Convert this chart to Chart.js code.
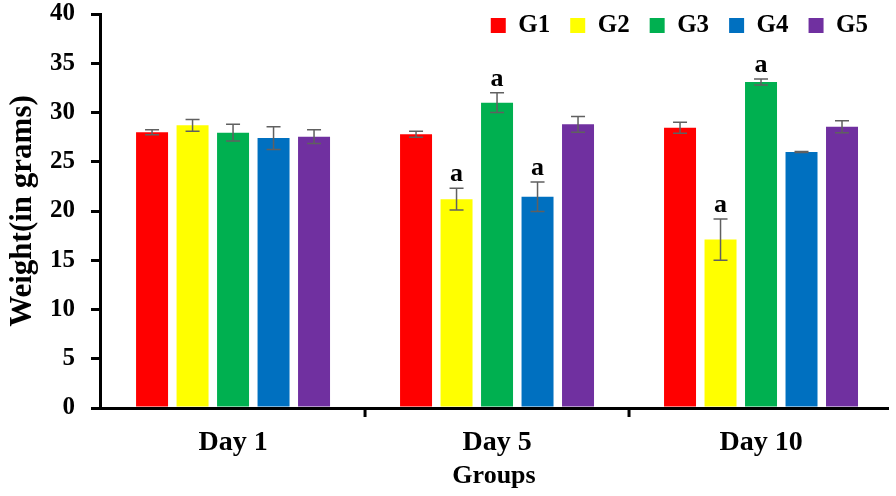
<!DOCTYPE html>
<html>
<head>
<meta charset="utf-8">
<title>Weight by group</title>
<script src="https://cdn.jsdelivr.net/npm/chart.js@4.4.0/dist/chart.umd.min.js"></script>
<style>
  body { margin: 0; background: #fff; }
  #wrap { width: 896px; height: 496px; }
</style>
</head>
<body>
<div id="wrap"><canvas id="weightChart"></canvas></div>
<script>
// values
const days = ['Day 1', 'Day 5', 'Day 10'];
const groups = ['G1', 'G2', 'G3', 'G4', 'G5'];
const colors = ['#FF0000', '#FFFF00', '#00B050', '#0070C0', '#7030A0'];

const g1 = [28.0, 27.8, 28.45];
const g2 = [28.7, 21.2, 17.1];
const g3 = [27.95, 31.0, 33.1];
const g4 = [27.4, 21.45, 26.0];
const g5 = [27.55, 28.8, 28.55];

const g1Err = [0.25, 0.3, 0.55];
const g2Err = [0.6, 1.1, 2.1];
const g3Err = [0.85, 1.0, 0.3];
const g4Err = [1.15, 1.5, 0.05];
const g5Err = [0.7, 0.8, 0.6];

const g1Sig = ['', '', ''];
const g2Sig = ['', 'a', 'a'];
const g3Sig = ['', 'a', 'a'];
const g4Sig = ['', 'a', ''];
const g5Sig = ['', '', ''];

const yTicks = [0, 5, 10, 15, 20, 25, 30, 35, 40];

const means = [g1, g2, g3, g4, g5];
const errs = [g1Err, g2Err, g3Err, g4Err, g5Err];
const sigs = [g1Sig, g2Sig, g3Sig, g4Sig, g5Sig];

const serif = '"Liberation Serif", "Times New Roman", serif';

// error bars + "a" letters
const errorBars = {
    id: 'errorBars',
    afterDatasetsDraw(chart) {
        const ctx = chart.ctx;
        const y = chart.scales.y;
        ctx.save();
        means.forEach((vals, di) => {
            const meta = chart.getDatasetMeta(di);
            meta.data.forEach((bar, i) => {
                const top = y.getPixelForValue(vals[i] + errs[di][i]);
                const bot = y.getPixelForValue(vals[i] - errs[di][i]);
                ctx.strokeStyle = '#606060';
                ctx.lineWidth = 1.5;
                ctx.beginPath();
                ctx.moveTo(bar.x, top); ctx.lineTo(bar.x, bot);
                ctx.moveTo(bar.x - 7, top); ctx.lineTo(bar.x + 7, top);
                ctx.moveTo(bar.x - 7, bot); ctx.lineTo(bar.x + 7, bot);
                ctx.stroke();
                if (sigs[di][i]) {
                    ctx.fillStyle = '#000';
                    ctx.font = 'bold 26px ' + serif;
                    ctx.textAlign = 'center';
                    ctx.textBaseline = 'alphabetic';
                    ctx.fillText(sigs[di][i], bar.x, top - 7);
                }
            });
        });
        ctx.restore();
    }
};

// tick marks between the day groups on the x axis
const xTickMarks = {
    id: 'xTickMarks',
    afterDraw(chart) {
        const ctx = chart.ctx;
        const x = chart.scales.x;
        const bottom = chart.chartArea.bottom;
        ctx.save();
        ctx.strokeStyle = '#000';
        ctx.lineWidth = 3;
        [1.5, 2.5].forEach(v => {
            const px = x.getPixelForValue(v);
            ctx.beginPath();
            ctx.moveTo(px, bottom);
            ctx.lineTo(px, bottom + 9);
            ctx.stroke();
        });
        ctx.restore();
    }
};

// legend sits inside the plot, top right
const legendInside = {
    id: 'legendInside',
    beforeInit(chart) {
        const fit = chart.legend.fit;
        chart.legend.fit = function () { fit.call(this); this.height = 0; };
    },
    afterLayout(chart) {
        chart.legend.top = -7;
        chart.legend.bottom = 60;
    }
};

const ctx = document.getElementById('weightChart').getContext('2d');
new Chart(ctx, {
    type: 'bar',
    data: {
        datasets: groups.map((g, di) => ({
            label: g,
            data: means[di].map((v, i) => ({ x: i + 1, y: v })),
            backgroundColor: colors[di],
            borderWidth: 0,
            categoryPercentage: 0.767,
            barPercentage: 0.79
        }))
    },
    options: {
        responsive: true,
        maintainAspectRatio: false,
        animation: false,
        layout: { padding: { top: 0, right: 8 } },
        plugins: {
            tooltip: { enabled: false },
            legend: {
                display: true,
                align: 'end',
                labels: {
                    boxWidth: 15,
                    boxHeight: 15,
                    padding: 20,
                    color: '#000',
                    font: { family: serif, size: 25, weight: 'bold' }
                }
            }
        },
        scales: {
            x: {
                type: 'linear',
                offset: false,
                min: 0.496,
                max: 3.481,
                afterBuildTicks(axis) {
                    axis.ticks = days.map((d, i) => ({ value: i + 1 }));
                },
                afterFit(scale) { scale.height = 88; },
                grid: { display: false, drawTicks: false, offset: false },
                border: { display: true, color: '#000', width: 3 },
                ticks: {
                    padding: 18,
                    color: '#000',
                    font: { family: serif, size: 28, weight: 'bold' },
                    callback: (v) => days[v - 1]
                },
                title: {
                    display: true,
                    text: 'Groups',
                    color: '#000',
                    font: { family: serif, size: 26, weight: 'bold' },
                    padding: { top: 0, bottom: 4 }
                }
            },
            y: {
                min: 0,
                max: 40,
                afterBuildTicks(axis) {
                    axis.ticks = yTicks.map(v => ({ value: v }));
                },
                afterFit(scale) {
                    scale.width = 100;
                    scale.paddingTop = 14;
                },
                grid: {
                    display: true,
                    drawOnChartArea: false,
                    drawTicks: true,
                    tickLength: 9,
                    color: '#000',
                    lineWidth: 3
                },
                border: { display: true, color: '#000', width: 3 },
                ticks: {
                    padding: 16,
                    color: '#000',
                    font: { family: serif, size: 25, weight: 'bold' }
                },
                title: {
                    display: true,
                    text: 'Weight(in grams)',
                    color: '#000',
                    font: { family: serif, size: 31, weight: 'bold' },
                    padding: { top: 4, bottom: 4 }
                }
            }
        }
    },
    plugins: [errorBars, xTickMarks, legendInside]
});
</script>
</body>
</html>
